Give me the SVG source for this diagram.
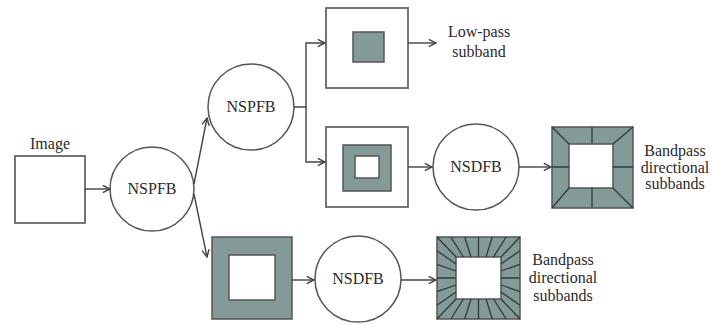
<svg xmlns="http://www.w3.org/2000/svg" width="712" height="325" viewBox="0 0 712 325">
<style>
  text { font-family: "Liberation Serif", "DejaVu Serif", serif; font-size: 16px; fill: #2a2a2a; }
  .lbl { text-anchor: middle; }
  .circle { fill: #fff; stroke: #555; stroke-width: 1.5; }
  .box { fill: #fff; stroke: #666; stroke-width: 1.8; }
  .gray { fill: #839a98; stroke: #555; stroke-width: 1.5; }
  .white { fill: #fff; stroke: #555; stroke-width: 1.5; }
  .div { stroke: #2f3a3a; stroke-width: 1.3; fill: none; }
  .conn { fill: none; stroke: #444; stroke-width: 1.4; marker-end: url(#arr); }
</style>
<defs>
  <marker id="arr" viewBox="0 0 10 10" refX="9" refY="5" markerWidth="9" markerHeight="9" markerUnits="userSpaceOnUse" orient="auto">
    <path d="M1,1 L9,5 L1,9" fill="none" stroke="#444" stroke-width="1.6"/>
  </marker>
</defs>
<rect width="712" height="325" fill="#fff"/>

<g id="image">
  <rect class="box" x="15" y="156" width="70" height="67" stroke="#888" stroke-width="2"/>
  <text class="lbl" x="50" y="149">Image</text>
</g>

<g id="nspfb1">
  <circle class="circle" cx="152" cy="189" r="42"/>
  <text class="lbl" x="152" y="194">NSPFB</text>
</g>

<g id="nspfb2">
  <circle class="circle" cx="251" cy="107" r="43"/>
  <text class="lbl" x="251" y="112">NSPFB</text>
</g>

<g id="lowpass-box">
  <rect class="box" x="326" y="8" width="82" height="80"/>
  <rect class="gray" x="353" y="32" width="31" height="30"/>
</g>

<g id="lowpass-label">
  <text class="lbl" x="479" y="37">Low-pass</text>
  <text class="lbl" x="479" y="57">subband</text>
</g>

<g id="bandpass-box">
  <rect class="box" x="326" y="127" width="82" height="80"/>
  <rect class="gray" x="343" y="145" width="48" height="46"/>
  <rect class="white" x="355" y="156" width="24" height="22"/>
</g>

<g id="nsdfb1">
  <circle class="circle" cx="476" cy="167" r="43"/>
  <text class="lbl" x="476" y="172">NSDFB</text>
</g>

<g id="dir-subbands1">
  <rect class="gray" x="552" y="127" width="81" height="81"/>
  <rect class="white" x="569" y="144" width="44" height="44"/>
  <path class="div" d="M552,127 L569,144 M633,127 L613,144 M552,208 L569,188 M633,208 L613,188 M592,127 V144 M592,188 V208 M552,167 H569 M613,167 H633"/>
</g>

<g id="dir-label1">
  <text class="lbl" x="675" y="156">Bandpass</text>
  <text class="lbl" x="675" y="173">directional</text>
  <text class="lbl" x="675" y="189">subbands</text>
</g>

<g id="hp-box">
  <rect class="gray" x="212" y="237" width="80" height="82"/>
  <rect class="white" x="229" y="255" width="46" height="45"/>
</g>

<g id="nsdfb2">
  <circle class="circle" cx="358" cy="279" r="43"/>
  <text class="lbl" x="358" y="284">NSDFB</text>
</g>

<g id="dir-subbands2">
  <rect class="gray" x="437" y="237" width="83" height="82"/>
  <rect class="white" x="456" y="257" width="45" height="42"/>
  <path class="div" d="M437,237 L456,257 M520,237 L501,257 M437,319 L456,299 M520,319 L501,299
    M450.8,237 L463.5,257 M464.7,237 L471,257 M478.5,237 L478.5,257 M492.3,237 L486,257 M506.2,237 L493.5,257
    M450.8,319 L463.5,299 M464.7,319 L471,299 M478.5,319 L478.5,299 M492.3,319 L486,299 M506.2,319 L493.5,299
    M437,250.7 L456,264 M437,264.3 L456,271 M437,278 L456,278 M437,291.7 L456,285 M437,305.3 L456,292
    M520,250.7 L501,264 M520,264.3 L501,271 M520,278 L501,278 M520,291.7 L501,285 M520,305.3 L501,292"/>
</g>

<g id="dir-label2">
  <text class="lbl" x="563" y="265">Bandpass</text>
  <text class="lbl" x="563" y="283">directional</text>
  <text class="lbl" x="563" y="301">subbands</text>
</g>

<g id="connectors">
  <path class="conn" d="M85,189 H110"/>
  <path class="conn" d="M194,184 L207,118"/>
  <path class="conn" d="M194,194 L207,257"/>
  <path class="conn" d="M294,107 H306 V43 H325"/>
  <path class="conn" d="M306,107 V162 H325"/>
  <path class="conn" d="M408,43 H436"/>
  <path class="conn" d="M408,167 H432"/>
  <path class="conn" d="M519,167 H551"/>
  <path class="conn" d="M292,280 H314"/>
  <path class="conn" d="M401,280 H436"/>
</g>
</svg>
